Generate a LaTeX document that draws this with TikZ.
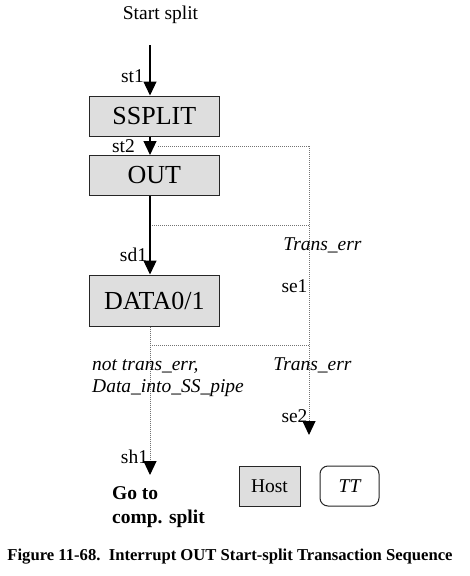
\documentclass[tikz,border=0pt]{standalone}
\usepackage{fontspec}
\setmainfont{Liberation Serif}
\usetikzlibrary{arrows.meta, positioning}
\tikzset{
	statebox/.style={draw=black!85, line width=1pt, fill=black!13, minimum width=130pt,
			minimum height=40pt, inner sep=0pt, font=\fontsize{26}{30}\selectfont},
	legendbox/.style={draw=black!85, line width=1pt, minimum height=40pt, inner sep=0pt,
			font=\fontsize{19.5}{22}\selectfont}
}
\tikzset{
	flowarrow/.style={line width=1.2pt, -{Triangle[length=14pt,width=13pt]}},
	errline/.style={draw=black!55, line width=1pt, dash pattern=on 1pt off 1pt},
	errarrow/.style={errline, -{Triangle[length=14pt,width=13pt,color=black]}}
}
\tikzset{
	smalltext/.style={font=\fontsize{19.5}{22}\selectfont, inner sep=0pt},
	condtext/.style={font=\fontsize{19.5}{22}\selectfont\itshape, inner sep=0pt}
}
\begin{document}
\begin{tikzpicture}[x=1pt, y=-1pt]
	\useasboundingbox[fill=white] (0,0) rectangle (470,576);

	% states
	\node[smalltext] (title) at (160.5,15) {Start split};
	\node[statebox] (ssplit) at (154.3,116) {SSPLIT};
	\node[statebox] (out) at (154.3,175.5) {OUT};
	\node[statebox, minimum height=51pt] (data) at (154.3,300.5) {DATA0/1};

	\coordinate (top) at (150,45);
	\draw[flowarrow] (top) -- ([xshift=-4.3pt]ssplit.north);
	\draw[flowarrow] ([xshift=-4.3pt]ssplit.south) -- ([xshift=-4.3pt]out.north);
	\draw[flowarrow] ([xshift=-4.3pt]out.south) -- ([xshift=-4.3pt]data.north);

	% error and exit paths
	\coordinate (errA) at (158,146);
	\coordinate (errB) at (309,146);
	\coordinate (outerr) at ([xshift=-2.3pt]out.south |- 0,225);
	\coordinate (outcorner) at (309,225);
	\coordinate (datadown) at ([xshift=-4.3pt]data.south);
	\coordinate (datacorner) at (309,345);
	\coordinate (se2tip) at (309,435);
	\coordinate (sh1tip) at (150,475);

	\draw[errline] (errA) -- (errB);
	\draw[errline] (outerr) -- (outcorner);
	\draw[errline] (150,345) -- (datacorner);
	\draw[errarrow] (errB) -- (se2tip);
	\draw[errarrow] (datadown) -- (sh1tip);

	% labels
	\node[smalltext] (st1) at (132.5,76) {st1};
	\node[smalltext] (st2) at (123.5,146) {st2};
	\node[smalltext] (sd1) at (133.5,255) {sd1};
	\node[smalltext] (se1) at (294.5,286) {se1};
	\node[smalltext] (se2) at (294.5,416) {se2};
	\node[smalltext] (sh1) at (134.5,457) {sh1};
	\node[condtext] (err1) at (322.5,245) {Trans\_err};
	\node[condtext] (err2) at (312.5,365) {Trans\_err};
	\node[condtext, align=left, anchor=west] (okdata) at (92,378)
		{not trans\_err,\\Data\_into\_SS\_pipe};
	\node[smalltext, font=\fontsize{19.5}{24}\selectfont\bfseries, align=left, anchor=west]
		(goto) at (112,507) {Go to\\comp. split};

	% legend
	\node[legendbox, fill=black!13, minimum width=61pt] (host) at (269.5,486) {Host};
	\node[legendbox, fill=white, minimum width=59pt, rounded corners=8pt,
		font=\fontsize{19.5}{22}\selectfont\itshape] (tt) at (349.5,486) {TT};

	\node[font=\fontsize{16.65}{19}\selectfont\bfseries, inner sep=0pt] (caption) at (230,557)
		{Figure 11-68.\ \ Interrupt OUT Start-split Transaction Sequence};

\end{tikzpicture}
\end{document}
